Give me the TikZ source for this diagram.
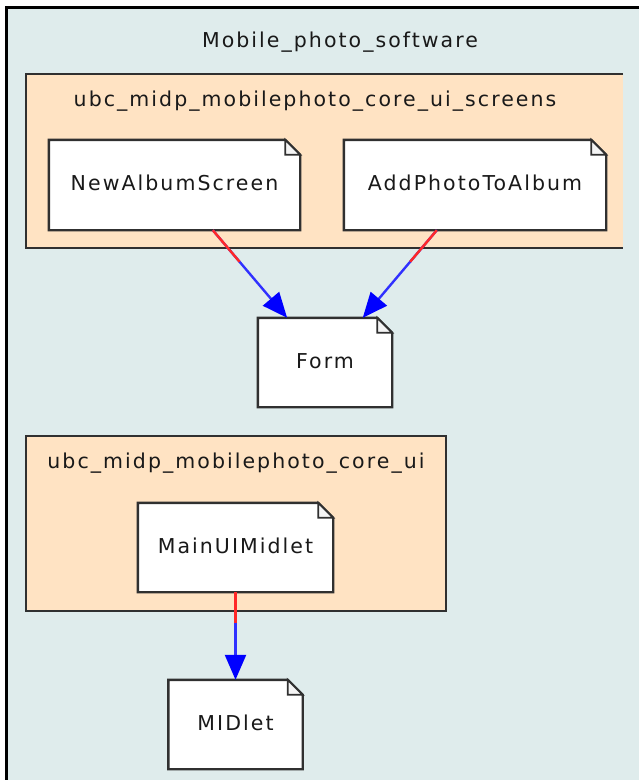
\documentclass[tikz,border=0pt]{standalone}
\usepackage{fontspec}
\setmainfont{DejaVu Sans}[LetterSpace=10]
\usetikzlibrary{arrows.meta}
\pgfdeclarelayer{bg}
\pgfdeclarelayer{mid}
\pgfsetlayers{bg,mid,main}
\definecolor{bgc}{HTML}{DFECEC}
\definecolor{pkgc}{HTML}{FFE3C3}
\definecolor{linec}{HTML}{303030}
\definecolor{foldc}{HTML}{F4F4F4}
\definecolor{tailc}{HTML}{FF2828}
\definecolor{headc}{HTML}{3030FF}
\newcommand\drawnotebox[1]{%
  \filldraw[noteshape] (#1.north west) -- ([xshift=-15pt]#1.north east)
    -- ([yshift=-15pt]#1.north east) -- (#1.south east) -- (#1.south west) -- cycle;
  \filldraw[foldshape] ([xshift=-15pt]#1.north east)
    -- ([xshift=-15pt,yshift=-15pt]#1.north east) -- ([yshift=-15pt]#1.north east) -- cycle;}
\begin{document}
\begin{tikzpicture}[x=1pt,y=-1pt,
  font=\fontsize{20.5}{24}\selectfont,
  notebox/.style={rectangle, inner sep=0pt, text height=15pt, text depth=4pt, text=black!90},
  noteshape/.style={fill=white, draw=linec, line width=2.4pt, line join=miter},
  foldshape/.style={fill=foldc, draw=linec, line width=1.8pt, line join=miter},
  pkgnode/.style={rectangle, inner sep=0pt},
  pkgborder/.style={draw=linec, line width=2.4pt},
  titletext/.style={anchor=base, inner sep=0pt, text=black!90},
  dep/.style={draw=headc, line width=2.4pt, -{Triangle[length=25pt,width=21pt,color=blue,fill=blue]}},
  deptail/.style={draw=tailc, line width=2.4pt}]
\useasboundingbox (0,0) rectangle (639,780);

% outer system frame
\begin{pgfonlayer}{bg}
  \fill[bgc] (6,7) rectangle (639,780);
  \draw[black, line width=3pt] (6,781) -- (6,7) -- (640,7);
\end{pgfonlayer}
\node[titletext] (systitle) at (340,47) {Mobile\_photo\_software};

% packages
\node[pkgnode, minimum width=597pt, minimum height=174pt] (pkgA) at (324.5,161) {};
\node[pkgnode, minimum width=420pt, minimum height=175pt] (pkgB) at (236,523.5) {};
\begin{pgfonlayer}{bg}
  \fill[pkgc] (pkgA.north west) rectangle (pkgA.south east);
  \draw[pkgborder] (pkgA.north east) -- (pkgA.north west) -- (pkgA.south west) -- (pkgA.south east);
  \filldraw[pkgc, pkgborder] (pkgB.north west) rectangle (pkgB.south east);
\end{pgfonlayer}
\node[titletext] (pkgAlabel) at (315,106) {ubc\_midp\_mobilephoto\_core\_ui\_screens};
\node[titletext] (pkgBlabel) at (236,468) {ubc\_midp\_mobilephoto\_core\_ui};

% classes
\node[notebox, minimum width=251pt, minimum height=90pt] (nas) at (174.5,185) {NewAlbumScreen};
\node[notebox, minimum width=262pt, minimum height=90pt] (apa) at (475,185) {AddPhotoToAlbum};
\node[notebox, minimum width=134pt, minimum height=89pt] (form) at (325,362.5) {Form};
\node[notebox, minimum width=195pt, minimum height=89pt] (mui) at (235.5,547.5) {MainUIMidlet};
\node[notebox, minimum width=134pt, minimum height=89pt] (midlet) at (235.5,724.5) {MIDlet};
\begin{pgfonlayer}{mid}
  \drawnotebox{nas}
  \drawnotebox{apa}
  \drawnotebox{form}
  \drawnotebox{mui}
  \drawnotebox{midlet}
\end{pgfonlayer}

% dependencies
\draw[dep] (nas) -- (form) coordinate[pos=0.36] (m1);
\draw[deptail] (nas) -- (m1);
\draw[dep] (apa) -- (form) coordinate[pos=0.36] (m2);
\draw[deptail] (apa) -- (m2);
\draw[dep] (mui) -- (midlet) coordinate[pos=0.35] (m3);
\draw[deptail] (mui) -- (m3);
\end{tikzpicture}
\end{document}
